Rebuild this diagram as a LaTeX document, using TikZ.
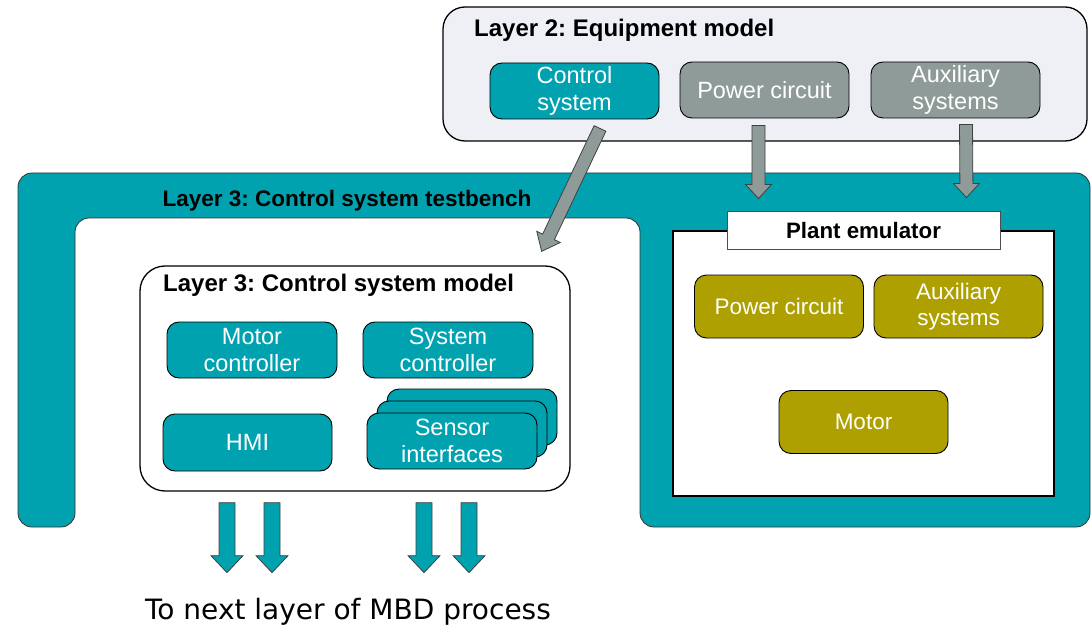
\documentclass[tikz,border=0pt]{standalone}
\usepackage{fontspec}
\setmainfont{Liberation Sans}
\newfontfamily\capfont{DejaVu Sans}
\usetikzlibrary{calc}
\frenchspacing

\definecolor{tbteal}{RGB}{0,162,176}
\definecolor{eqgrey}{RGB}{143,155,152}
\definecolor{plolive}{RGB}{174,160,0}
\definecolor{eqback}{RGB}{238,240,245}

% block arrow: style, from, to, shaft half width, head half width, head length
\newcommand\blockarrow[6]{%
  \coordinate (ba-h) at ($(#3)!#6!(#2)$);
  \path[#1] ($(#2)!#4!90:(#3)$) -- ($(ba-h)!#4!-90:(#2)$) -- ($(ba-h)!#5!-90:(#2)$)
    -- (#3) -- ($(ba-h)!#5!90:(#2)$) -- ($(ba-h)!#4!90:(#2)$) -- ($(#2)!#4!-90:(#3)$) -- cycle;}

\tikzset{
  box/.style={draw=black, line width=0.9pt, rounded corners=12pt, inner sep=0pt,
    align=center, text=white, font=\fontsize{23.5}{27.5}\selectfont},
  tealbox/.style={box, fill=tbteal, minimum width=170pt, minimum height=56pt},
  greybox/.style={box, fill=eqgrey, minimum width=169pt, minimum height=56pt},
  olivebox/.style={box, fill=plolive, minimum width=169pt, minimum height=63pt,
    font=\fontsize{22.5}{26.5}\selectfont},
  title/.style={inner sep=0pt, font=\bfseries\fontsize{24}{28}\selectfont},
  greyarrow/.style={fill=eqgrey, draw=black!75, line width=0.8pt},
  tealarrow/.style={fill=tbteal, draw=black!75, line width=0.8pt},
}

\begin{document}
\begin{tikzpicture}[x=1pt, y=-1pt]
\useasboundingbox (0,0) rectangle (1092,631);

% Layer 2: equipment model
\node[draw=black, line width=1.3pt, fill=eqback, rounded corners=22pt,
  minimum width=644pt, minimum height=134pt] (l2) at (765,74) {};
\node[title, anchor=west] (l2t) at (474,30.5) {Layer 2: Equipment model};
\node[tealbox, minimum width=169pt] (cs2) at (574.5,91) {Control\\system};
\node[greybox] (pc2) at (764.5,90) {Power circuit};
\node[greybox] (aux2) at (955.5,90) {Auxiliary\\systems};

% Layer 3: testbench frame
\draw[fill=tbteal, draw=black!80, line width=0.8pt, rounded corners=14pt]
  (18,527) -- (18,173) -- (1090,173) -- (1090,527) -- (640,527) -- (640,218)
  -- (75,218) -- (75,527) -- cycle;
\node[title, font=\bfseries\fontsize{22.5}{27}\selectfont] (tbt) at (347,201)
  {Layer 3: Control system testbench};

% plant emulator
\node[draw=black, line width=2pt, fill=white, minimum width=381pt,
  minimum height=265pt] (pe) at (863.5,363.5) {};
\node[draw=black!70, line width=1pt, fill=white, minimum width=273pt,
  minimum height=37pt, inner sep=0pt, font=\bfseries\fontsize{22.3}{26}\selectfont]
  (pelab) at (863.5,230.5) {Plant emulator};
\node[olivebox] (pc3) at (779,306.5) {Power circuit};
\node[olivebox] (aux3) at (958.5,306.5) {Auxiliary\\systems};
\node[olivebox] (mot) at (863.5,422) {Motor};

% Layer 3: control system model
\node[draw=black, line width=1.3pt, fill=white, rounded corners=25pt,
  minimum width=430pt, minimum height=225pt] (cm) at (355,378.5) {};
\node[title, anchor=west] (cmt) at (163,285) {Layer 3: Control system model};
\node[tealbox] (mc) at (252,350) {Motor\\controller};
\node[tealbox] (sc) at (448,350) {System\\controller};
\node[tealbox, minimum width=169pt, minimum height=57pt] (hmi) at (247.5,442.5) {HMI};
\node[tealbox] (sens3) at (472,417) {};
\node[tealbox] (sens2) at (462,429) {};
\node[tealbox] (sens) at (452,441) {Sensor\\interfaces};

% connectors from the equipment model
\coordinate (d1s) at ($(cs2.south)+(25.5,9)$);
\coordinate (d1e) at ($(cm.north east)+(-29,-14)$);
\coordinate (p1s) at ($(pc2.south)+(-6,7)$);
\coordinate (p1e) at ($(pelab.north)+(-105,-13)$);
\coordinate (a1s) at ($(aux2.south)+(10.5,6)$);
\coordinate (a1e) at ($(pelab.north east)+(-34,-14)$);
\blockarrow{greyarrow}{d1s}{d1e}{6.5pt}{13pt}{16pt}
\blockarrow{greyarrow}{p1s}{p1e}{6.5pt}{13pt}{14pt}
\blockarrow{greyarrow}{a1s}{a1e}{6.5pt}{13pt}{14pt}

% outputs to the next layer
\foreach \dx [count=\i] in {-128,-83,69,114} {
  \coordinate (o\i s) at ($(cm.south)+(\dx,11)$);
  \coordinate (o\i e) at ($(cm.south)+(\dx,81)$);
  \blockarrow{tealarrow}{o\i s}{o\i e}{8pt}{16pt}{17pt}
}
\node[inner sep=0pt, font=\capfont\fontsize{28}{32}\selectfont] (cap) at (348,612)
  {To next layer of MBD process};
\end{tikzpicture}
\end{document}
